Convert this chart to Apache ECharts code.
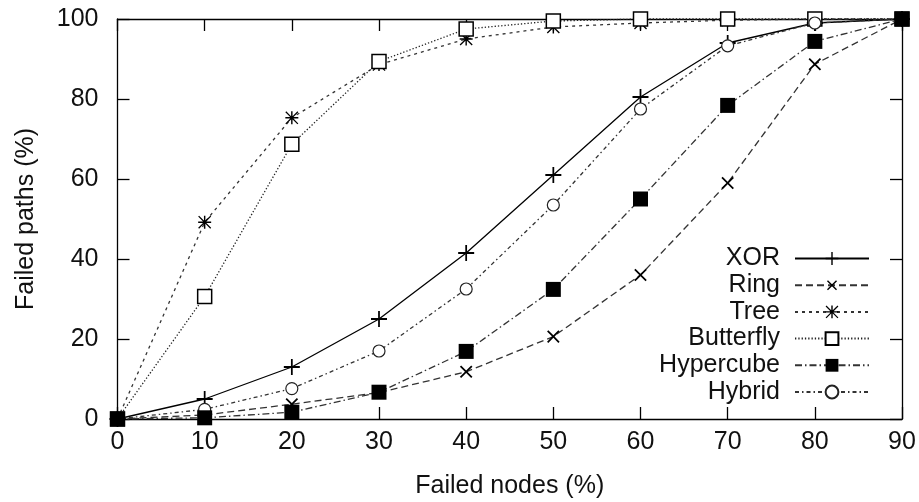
<!DOCTYPE html>
<html>
<head>
<meta charset="utf-8">
<script src="https://cdn.jsdelivr.net/npm/echarts@6/dist/echarts.min.js"></script>
<style>
	html, body { margin: 0; padding: 0; background: #fff; }
	#chart { width: 919px; height: 502px; }
</style>
</head>
<body>
<div id="chart"></div>
<script>
	"use strict";

	// ______________ DATA
	var failedNodes = [0, 10, 20, 30, 40, 50, 60, 70, 80, 90];
	var xorPaths = [0, 5, 13, 25, 41.5, 61, 80.5, 94, 99, 100];
	var ringPaths = [0, 1, 3.7, 6.6, 11.8, 20.6, 36, 59, 88.7, 100];
	var treePaths = [0, 49.2, 75.3, 88.6, 95, 98, 99, 99.7, 100, 100];
	var butterflyPaths = [0, 30.6, 68.7, 89.4, 97.5, 99.5, 100, 100, 100, 100];
	var hypercubePaths = [0, 0.3, 1.7, 6.7, 16.9, 32.4, 55, 78.4, 94.4, 100];
	var hybridPaths = [0, 2.4, 7.6, 17, 32.5, 53.5, 77.5, 93.3, 99, 100];

	// ______________ SYMBOLS
	var PLUS = 'path://M0,4.45H4.45V0H5.55V4.45H10V5.55H5.55V10H4.45V5.55H0Z';
	var STAR = 'path://M0,4.45H4.45V0H5.55V4.45H10V5.55H5.55V10H4.45V5.55H0Z' +
		'M0.7,0L5,4.3L9.3,0L10,0.7L5.7,5L10,9.3L9.3,10L5,5.7L0.7,10L0,9.3L4.3,5L0,0.7Z';

	function pairs(ys) {
		return failedNodes.map(function(x, i) { return [x, ys[i]]; });
	}

	function makeSeries(name, ys, lineType, color, symbol, size, extra) {
		var s = {
			name: name,
			type: 'line',
			data: pairs(ys),
			symbol: symbol,
			symbolSize: size,
			clip: false,
			animation: false,
			lineStyle: { color: color, width: 1.3, type: lineType },
			itemStyle: { color: '#000', borderWidth: 0 },
			emphasis: { disabled: true }
		};
		if (extra) {
			for (var k in extra) s[k] = extra[k];
		}
		return s;
	}

	var FONT = '"Liberation Sans", Arial, sans-serif';

	var chart = echarts.init(document.getElementById('chart'), null, { renderer: 'canvas' });

	var axisBase = {
		type: 'value',
		axisLine: { show: true, onZero: false, lineStyle: { color: '#000', width: 1.3 } },
		axisTick: { show: true, inside: true, length: 12, lineStyle: { color: '#000', width: 1.3 } },
		splitLine: { show: false },
		axisLabel: { color: '#111', fontSize: 25, fontFamily: FONT }
	};

	function axis(opts) {
		var a = JSON.parse(JSON.stringify(axisBase));
		for (var k in opts) a[k] = opts[k];
		return a;
	}

	chart.setOption({
		backgroundColor: '#fff',
		grid: { left: 117.5, right: 17, top: 19, bottom: 83, outerBoundsMode: 'none', containLabel: false },
		legend: {
			orient: 'vertical',
			align: 'right',
			right: 49,
			top: 246,
			padding: 0,
			itemGap: 1.7,
			itemWidth: 74,
			itemHeight: 16,
			textStyle: { color: '#111', fontSize: 25, fontFamily: FONT, lineHeight: 25, padding: [0, 10, 0, 0] },
			data: ['XOR', 'Ring', 'Tree', 'Butterfly', 'Hypercube', 'Hybrid']
		},
		xAxis: [
			axis({
				min: 0, max: 90, interval: 10,
				position: 'bottom',
				name: 'Failed nodes (%)',
				nameLocation: 'middle',
				nameGap: 55,
				nameTextStyle: { color: '#111', fontSize: 25, fontFamily: FONT },
				axisLabel: { color: '#111', fontSize: 25, fontFamily: FONT, margin: 11 }
			}),
			axis({
				min: 0, max: 90, interval: 10,
				position: 'top',
				axisLabel: { show: false }
			})
		],
		yAxis: [
			axis({
				min: 0, max: 100, interval: 20,
				position: 'left',
				name: 'Failed paths (%)',
				nameLocation: 'middle',
				nameGap: 79,
				nameTextStyle: { color: '#111', fontSize: 25, fontFamily: FONT },
				axisLabel: { color: '#111', fontSize: 25, fontFamily: FONT, margin: 19 }
			}),
			axis({
				min: 0, max: 100, interval: 20,
				position: 'right',
				axisLabel: { show: false }
			})
		],
		series: [
			makeSeries('XOR', xorPaths, 'solid', '#000', PLUS, 16),
			makeSeries('Ring', ringPaths, [7, 4], '#333', PLUS, 16, { symbolRotate: 45 }),
			makeSeries('Tree', treePaths, [3, 4], '#333', STAR, 13),
			makeSeries('Butterfly', butterflyPaths, [1.3, 2], '#222', 'rect', 14, {
				itemStyle: { color: '#fff', borderColor: '#000', borderWidth: 1.5 }
			}),
			makeSeries('Hypercube', hypercubePaths, [7, 3, 1.5, 3], '#333', 'rect', 15, { z: 4 }),
			makeSeries('Hybrid', hybridPaths, [4, 3, 1.5, 3], '#333', 'circle', 12, {
				itemStyle: { color: '#fff', borderColor: '#222', borderWidth: 1.2 }
			})
		]
	});
</script>
</body>
</html>
